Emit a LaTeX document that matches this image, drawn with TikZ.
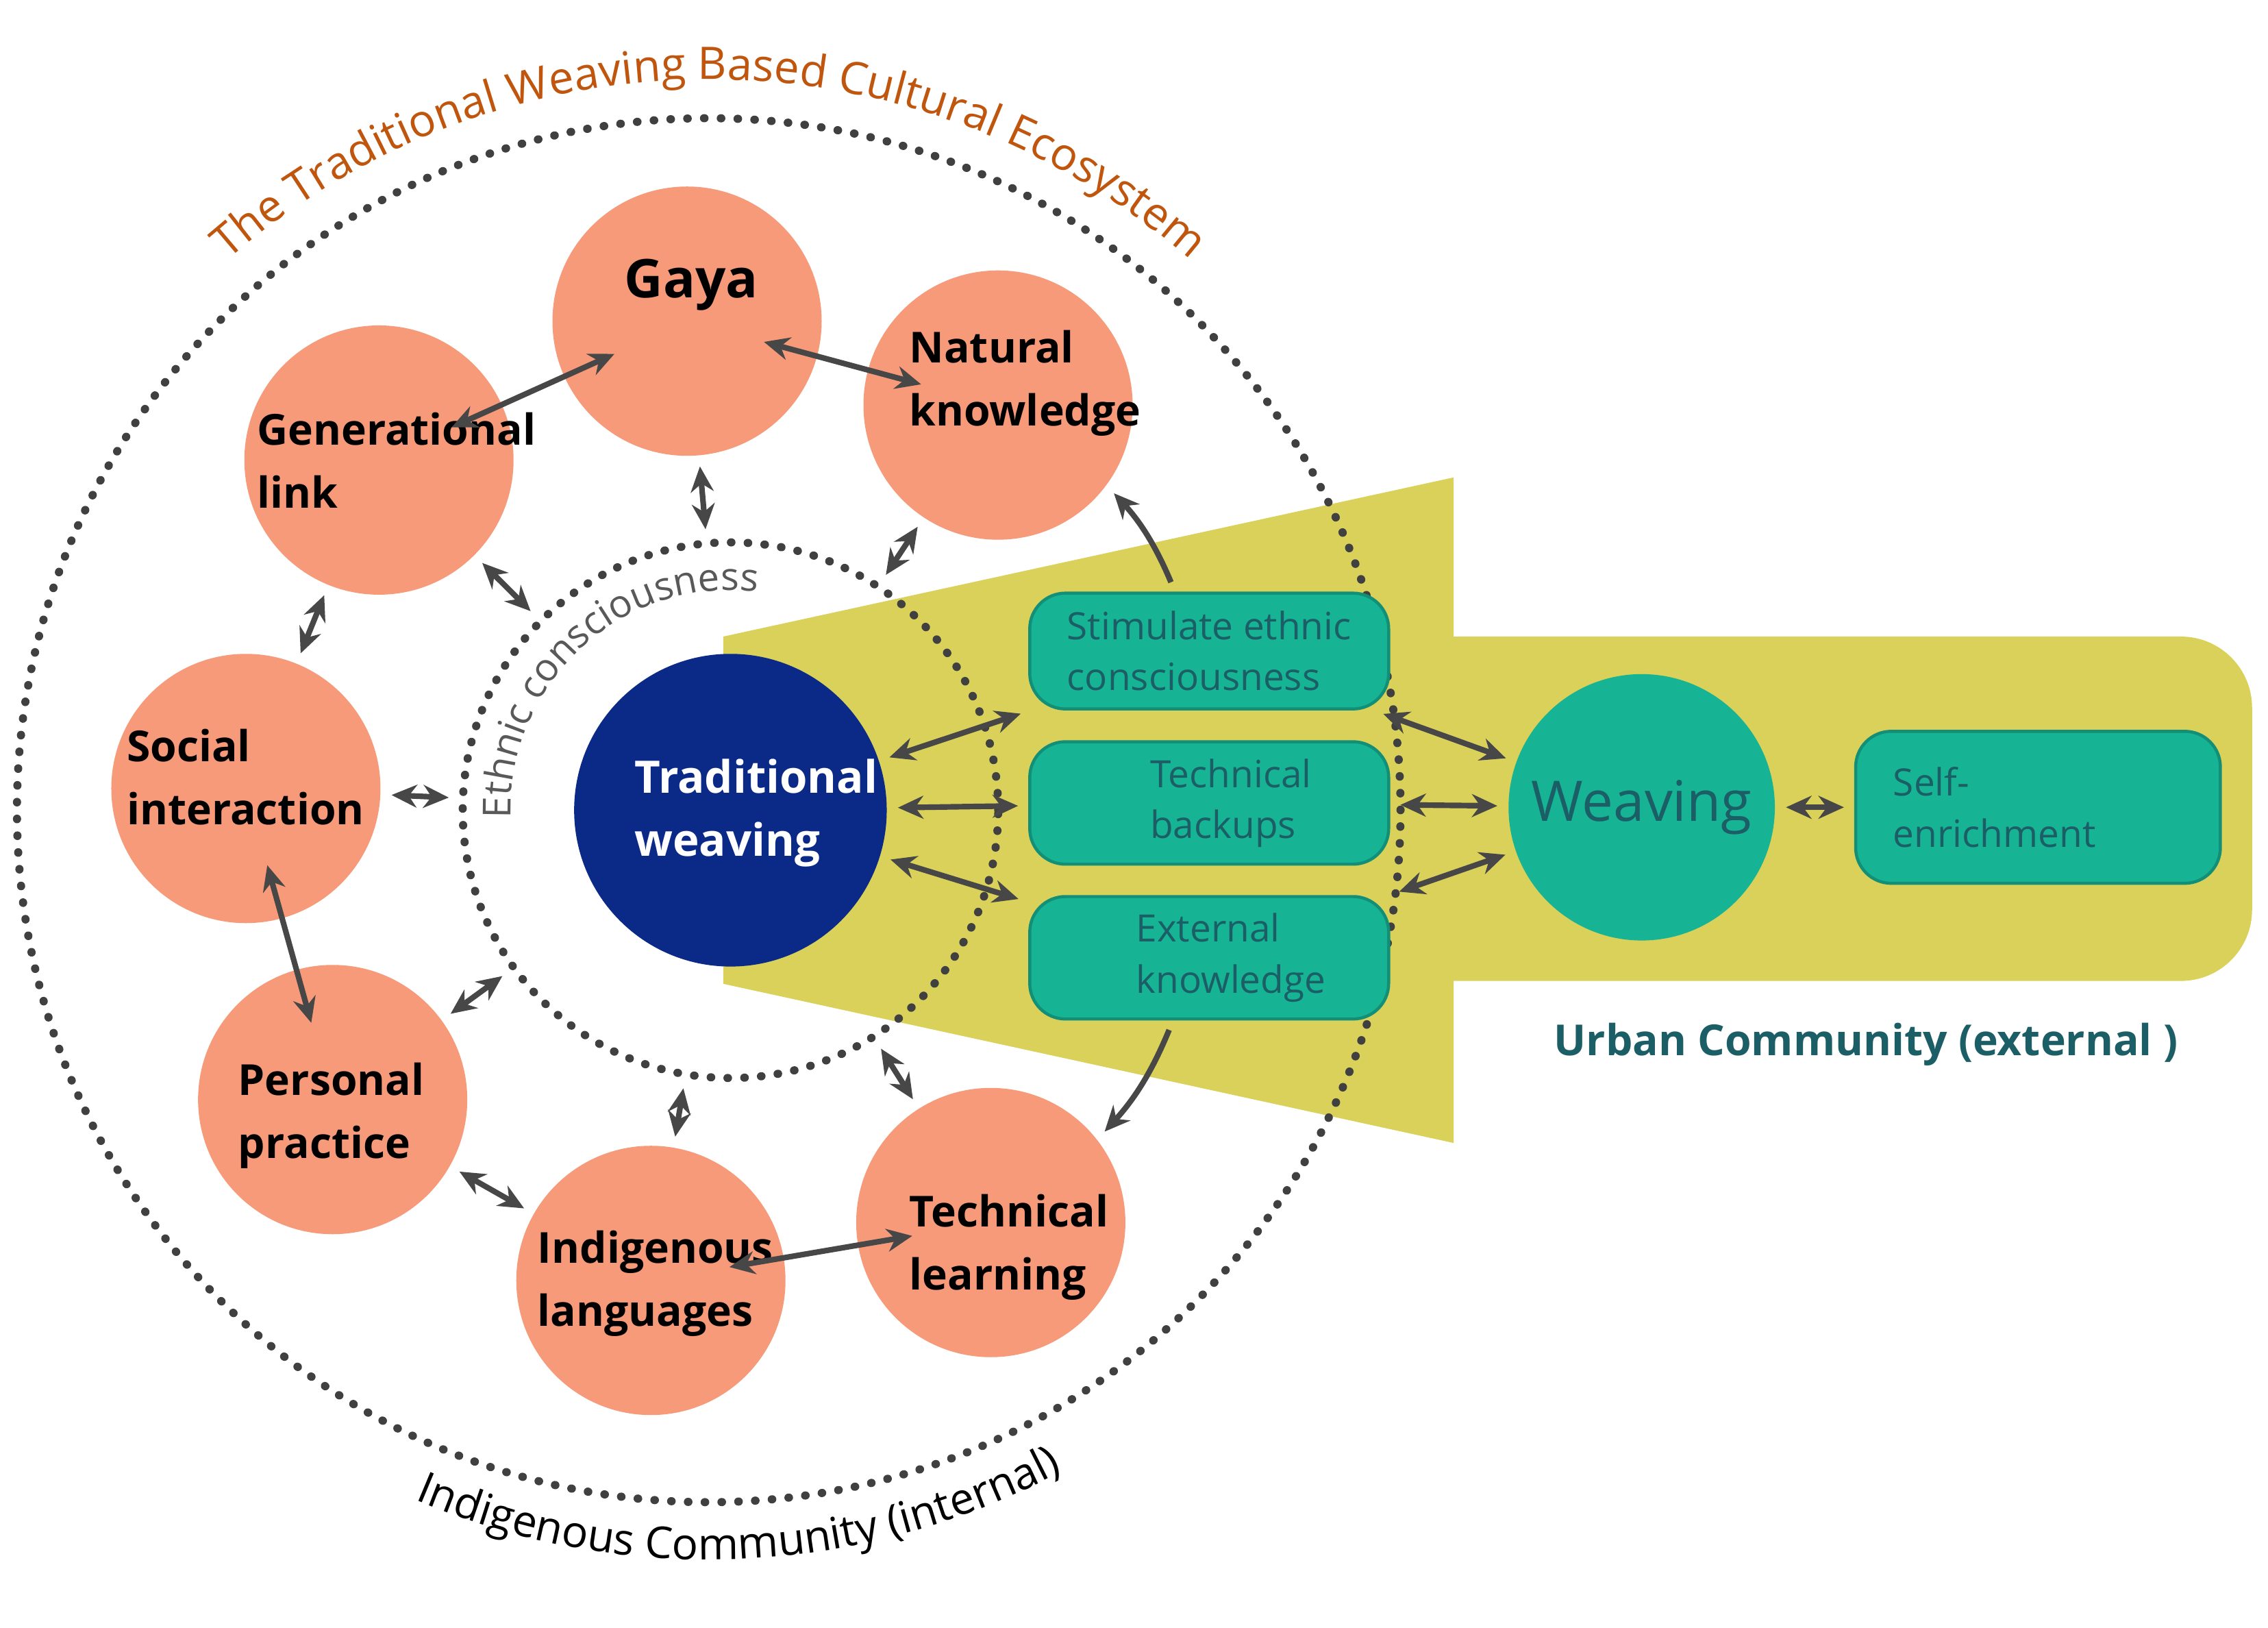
\documentclass[tikz,border=0pt]{standalone}
\usepackage{fontspec}
\setmainfont{Open Sans}
\usetikzlibrary{arrows.meta,decorations.text}
\definecolor{salmon}{HTML}{F69A7A}
\definecolor{navy}{HTML}{0B2A88}
\definecolor{teal1}{HTML}{16B394}
\definecolor{tealtext}{HTML}{1C5E66}
\definecolor{yel}{HTML}{D9D15A}
\definecolor{title}{HTML}{C0560E}
\begin{document}
\begin{tikzpicture}[x=0.01cm,y=0.01cm,
  orc/.style={circle,fill=salmon,minimum size=1.86cm,inner sep=0pt},
  lab/.style={align=left,inner sep=0pt,font=\bfseries\fontsize{8.4}{12.4}\selectfont},
  tbox/.style={rounded corners=7pt,fill=teal1,draw=teal1!80!black,line width=0.6pt,minimum width=2.48cm,minimum height=0.8cm,align=left,text=tealtext,font=\fontsize{7.4}{10}\selectfont},
  dbl/.style={<->,>={Stealth[length=5pt,width=4.5pt]},draw=black!72,line width=1.1pt,shorten <=2pt,shorten >=2pt},
  dbln/.style={dbl,shorten <=-11pt,shorten >=-11pt},
  dots/.style={draw=black!75,line width=1.6pt,dash pattern=on 0.1pt off 3.2pt,line cap=round}]
\useasboundingbox (0,0) rectangle (1568,1125);
% yellow
\fill[yel] (500,685) -- (1005,795) -- (1005,335) -- (500,445) -- cycle;
\fill[yel,rounded corners=14pt] (900,447) rectangle (1557,685);
% dotted circles
\node[circle,dots,minimum size=9.56cm,inner sep=0pt] (outer) at (490,565) {};
\node[circle,dots,minimum size=3.7cm,inner sep=0pt] (inner) at (505,565) {};
% circles
\node[circle,fill=navy,minimum size=2.16cm,inner sep=0pt] (tw) at (505,565) {};
\node[orc] (gaya) at (475,903) {};
\node[orc] (nat) at (690,845) {};
\node[orc] (gen) at (262,807) {};
\node[orc] (soc) at (170,580) {};
\node[orc] (per) at (230,365) {};
\node[orc] (ind) at (450,240) {};
\node[orc] (tec) at (685,280) {};
% labels
\node[lab,text=white,font=\bfseries\fontsize{8.8}{12.4}\selectfont,anchor=west] (twl) at (438,563) {Traditional\\weaving};
\node[lab,font=\bfseries\fontsize{10.5}{13}\selectfont] (gayal) at (478,928) {Gaya};
\node[lab,anchor=west] (natl) at (628,860) {Natural\\knowledge};
\node[lab,anchor=west] (genl) at (177,807) {Generational\\link};
\node[lab,anchor=west] (socl) at (87,588) {Social\\interaction};
\node[lab,anchor=west] (perl) at (164,354) {Personal\\practice};
\node[lab,anchor=west] (indl) at (371,238) {Indigenous\\languages};
\node[lab,anchor=west] (tecl) at (628,263) {Technical\\learning};
\node[tbox] (stim) at (836,675) {Stimulate ethnic\\consciousness};
\node[tbox] (tb) at (836,570) {\hspace*{0.3cm}Technical\\\hspace*{0.3cm}backups};
\node[tbox] (ext) at (836,463) {\hspace*{0.3cm}External\\\hspace*{0.3cm}knowledge};
\node[circle,fill=teal1,minimum size=1.84cm,inner sep=0pt,text=tealtext,font=\fontsize{11}{13}\selectfont] (weav) at (1135,567) {Weaving};
\node[tbox,minimum width=2.52cm,minimum height=1.05cm] (self) at (1409,567) {Self-\\enrichment\hspace*{0.6cm}};
\node[text=tealtext,font=\bfseries\fontsize{8.4}{10}\selectfont] (urb) at (1290,403) {Urban Community (external )};
% arrows
\draw[dbln] (gaya) -- (nat);
\draw[dbln] (gen) -- (gaya);
\draw[dbl] (gen) -- (soc);
\draw[dbln] (soc) -- (per);
\draw[dbl] (per) -- (ind);
\draw[dbln] (ind) -- (tec);
\draw[dbl] (gaya) -- (inner);
\draw[dbl] (nat) -- (inner);
\draw[dbl] (gen) -- (inner);
\draw[dbl] (soc) -- (inner);
\draw[dbl] (per) -- (inner);
\draw[dbl] (ind) -- (inner);
\draw[dbl] (tec) -- (inner);
\draw[dbl] (tw) -- (stim);
\draw[dbl] (tw) -- (tb);
\draw[dbl] (tw) -- (ext);
\draw[dbl] (stim) -- (weav);
\draw[dbl] (tb) -- (weav);
\draw[dbl] (ext) -- (weav);
\draw[dbl] (weav) -- (self);
\draw[dbl,<-] (nat) to[bend left=10] (stim.120);
\draw[dbl,<-] (tec) to[bend right=10] (ext.240);
% curved labels
\path[postaction={decorate,decoration={text along path,text align=center,
  text={|\fontsize{8.8}{10}\selectfont\color{title}|The Traditional Weaving Based Cultural Ecosystem}}}]
  (490,565) ++(137:505) arc[start angle=137,end angle=43,radius=5.05cm];
\path[postaction={decorate,decoration={text along path,text align=center,
  text={|\fontsize{8.6}{10}\selectfont|Indigenous Community (internal)}}}]
  (490,565) ++(240:518) arc[start angle=240,end angle=305,radius=5.18cm];
\path[postaction={decorate,decoration={text along path,text align=center,
  text={|\fontsize{7.6}{9}\selectfont\color{black!65}|Ethnic consciousness}}}]
  (505,565) ++(200:152) arc[start angle=200,end angle=65,radius=1.52cm];
\end{tikzpicture}
\end{document}
